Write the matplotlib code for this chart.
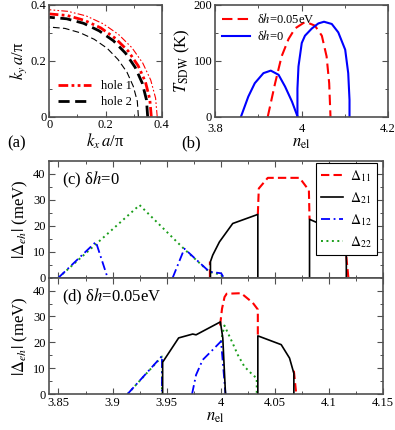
import numpy as np
import matplotlib
matplotlib.use("Agg")
import matplotlib.pyplot as plt
from matplotlib.ticker import MultipleLocator

plt.rcParams['font.family'] = ['Liberation Serif', 'DejaVu Serif']
plt.rcParams['mathtext.fontset'] = 'stix'
plt.rcParams['font.size'] = 9

# ---- panel (a): Fermi surfaces of hole pockets (radius read at angles) ----
theta_deg = [0, 10, 20, 30, 40, 50, 60, 70, 80, 90]
r_hole1_outer = [0.384, 0.384, 0.384, 0.384, 0.384, 0.384, 0.384, 0.384, 0.383, 0.383]
r_hole1_inner = [0.363, 0.363, 0.364, 0.365, 0.366, 0.366, 0.367, 0.367, 0.368, 0.368]
r_hole2_outer = [0.350, 0.351, 0.352, 0.353, 0.354, 0.355, 0.355, 0.356, 0.356, 0.356]
r_hole2_inner = [0.317, 0.318, 0.318, 0.319, 0.319, 0.320, 0.320, 0.320, 0.321, 0.321]

# ---- panel (b): T_SDW vs n_el ----
n_b_blue1 = [3.860, 3.877, 3.892, 3.912, 3.929, 3.947, 3.962, 3.978, 3.991]
T_b_blue1 = [0, 36, 60, 78, 82.5, 75, 54, 27, 0]
n_b_blue2 = [3.9906, 3.9906, 3.993, 4.0006, 4.008, 4.024, 4.039, 4.052, 4.070, 4.085, 4.101, 4.108, 4.111, 4.111]
T_b_blue2 = [0, 50, 90, 132, 145, 158, 167, 170, 166, 151, 120, 78, 30, 0]
n_b_red = [3.922, 3.939, 3.954, 3.970, 3.985, 4.009, 4.031, 4.047, 4.058, 4.064, 4.067]
T_b_red = [0, 60, 108, 139, 158, 170, 163, 145, 108, 60, 0]

# ---- panel (c): dh = 0 ----
c_n11 = [3.9900, 3.9900, np.nan, 4.0343, 4.0352, 4.0435, 4.0729, 4.0815, 4.0821, np.nan, 4.1161, 4.1180]
c_d11 = [0, 6.2, np.nan, 24.4, 34.4, 38.5, 38.5, 33.7, 22.5, np.nan, 8.1, 0]
c_n21 = [3.9905, 3.9905, 3.9926, 3.9988, 4.0111, 4.0343, 4.0343, np.nan,
         4.0821, 4.0821, 4.096, 4.110, 4.1161, 4.1161]
c_d21 = [0, 6.2, 8.7, 13.8, 20.9, 24.4, 0, np.nan, 0, 22.5, 20.0, 14.0, 8.1, 0]
c_n12 = [3.850, 3.8846, 3.8954, np.nan, 3.9556, 3.9664, 3.9895, 4.0004, 4.0028]
c_d12 = [0, 13.8, 0, np.nan, 0, 11.2, 2.3, 1.7, 0]
c_n22 = [3.850, 3.925, 3.9666, 3.9895, 4.000, 4.003]
c_d22 = [0, 28.0, 10.9, 2.2, 1.2, 0]

# ---- panel (d): dh = 0.05 eV ----
d_n11 = [3.9994, 4.0012, 4.0035, 4.0055, 4.0189, 4.0296, 4.0343, 4.0343, np.nan, 4.0676, 4.0698]
d_d11 = [26.5, 33.0, 37.5, 38.8, 39.0, 35.3, 32.7, 22.5, np.nan, 9.0, 0]
d_n21 = [3.9463, 3.9463, 3.9611, 3.9741, 3.9772, 3.9997, 4.0019, 4.0044, np.nan,
         4.0343, 4.0343, 4.0559, 4.0636, 4.0676, 4.0676]
d_d21 = [0, 12.3, 21.7, 23.2, 22.9, 27.9, 21.7, 0, np.nan, 0, 22.5, 19.1, 13.9, 8.0, 0]
d_n12 = [3.9139, 3.9457, 3.9457, np.nan, 3.9735, 3.9772, 3.9833, 3.9926, 4.0003, 4.0044]
d_d12 = [0, 14.7, 0, np.nan, 0, 7.4, 13.2, 17.1, 20.4, 0]
d_n22 = [3.9139, 3.9457, 3.9457, np.nan, 4.000, 4.0034, 4.0111, 4.0157, 4.0219, 4.0296, 4.0333, 4.0333]
d_d22 = [0, 14.5, 0, np.nan, 20.0, 26.5, 19.6, 15.2, 10.6, 7.4, 6.1, 0]

RED, BLUE, GREEN, BLACK = '#ff0000', '#0000ff', '#1a9e1a', '#000000'
SPINE = '#505050'


def style_axes(ax):
    for s in ax.spines.values():
        s.set_color(SPINE)
        s.set_linewidth(1.2)
    ax.tick_params(which='both', direction='in', top=True, right=True, color=SPINE)
    ax.tick_params(which='major', length=4, width=0.8, labelsize=9, pad=2)
    ax.tick_params(which='minor', length=2, width=0.7)


fig = plt.figure(figsize=(3.95, 4.3), dpi=100)

# (a)
ax_a = fig.add_axes([0.1248, 0.7286, 0.2846, 0.2598])
th = np.deg2rad(theta_deg)
ax_a.plot(np.array(r_hole1_outer) * np.cos(th), np.array(r_hole1_outer) * np.sin(th),
          color=RED, lw=0.8, dashes=(6, 2, 1.5, 2, 1.5, 2))
ax_a.plot(np.array(r_hole2_inner) * np.cos(th), np.array(r_hole2_inner) * np.sin(th),
          color=BLACK, lw=0.8, dashes=(6, 3))
ax_a.plot(np.array(r_hole1_inner) * np.cos(th), np.array(r_hole1_inner) * np.sin(th),
          color=RED, lw=2.0, dashes=(3.5, 1.2, 1, 1.2, 1, 1.2), label='hole 1')
ax_a.plot(np.array(r_hole2_outer) * np.cos(th), np.array(r_hole2_outer) * np.sin(th),
          color=BLACK, lw=2.0, dashes=(4, 2), label='hole 2')
ax_a.set_xlim(0, 0.4)
ax_a.set_ylim(0, 0.4)
ax_a.xaxis.set_major_locator(MultipleLocator(0.2))
ax_a.yaxis.set_major_locator(MultipleLocator(0.2))
ax_a.xaxis.set_minor_locator(MultipleLocator(0.1))
ax_a.yaxis.set_minor_locator(MultipleLocator(0.1))
ax_a.xaxis.set_major_formatter(plt.FuncFormatter(lambda v, p: '0' if v == 0 else f'{v:g}'))
ax_a.yaxis.set_major_formatter(plt.FuncFormatter(lambda v, p: '0' if v == 0 else f'{v:g}'))
style_axes(ax_a)
ax_a.set_xlabel(r'$k_x\,a$/π', fontsize=12, labelpad=0)
ax_a.set_ylabel(r'$k_y\,a$/π', fontsize=12, labelpad=1)
ax_a.legend(loc='lower left', frameon=False, fontsize=9, handlelength=2.6,
            borderaxespad=0.3, labelspacing=0.3, handletextpad=0.8)
fig.text(0.018, 0.667, '(a)', fontsize=12, va='center')

# (b)
ax_b = fig.add_axes([0.5443, 0.7286, 0.4380, 0.2598])
ax_b.plot(n_b_red, T_b_red, color=RED, lw=1.5, dashes=(5, 2.5), label=r'δ$h$=0.05eV')
ax_b.plot(n_b_blue1, T_b_blue1, color=BLUE, lw=1.5, label=r'δ$h$=0')
ax_b.plot(n_b_blue2, T_b_blue2, color=BLUE, lw=1.5)
ax_b.set_xlim(3.8, 4.2)
ax_b.set_ylim(0, 200)
ax_b.xaxis.set_major_locator(MultipleLocator(0.2))
ax_b.xaxis.set_minor_locator(MultipleLocator(0.1))
ax_b.yaxis.set_major_locator(MultipleLocator(100))
ax_b.yaxis.set_minor_locator(MultipleLocator(50))
ax_b.xaxis.set_major_formatter(plt.FuncFormatter(lambda v, p: f'{v:g}'))
style_axes(ax_b)
ax_b.tick_params(axis='x', pad=4.5)
ax_b.set_xlabel(r'$n_{\rm el}$', fontsize=12, labelpad=0)
ax_b.set_ylabel(r'$T_{\rm SDW}$ (K)', fontsize=12, labelpad=1)
ax_b.legend(loc='upper left', frameon=False, fontsize=9, handlelength=2.2,
            borderaxespad=0.2, labelspacing=0.2, handletextpad=0.6)
fig.text(0.46, 0.667, '(b)', fontsize=12, va='center')


def delta_panel(ax, n11, d11, n21, d21, n12, d12, n22, d22):
    ax.plot(n22, d22, color=GREEN, lw=1.4, dashes=(1, 1.8), label=r'$\Delta_{22}$')
    ax.plot(n12, d12, color=BLUE, lw=1.3, dashes=(5, 2, 1, 2), label=r'$\Delta_{12}$')
    ax.plot(n11, d11, color=RED, lw=1.5, dashes=(4, 2), label=r'$\Delta_{11}$')
    ax.plot(n21, d21, color=BLACK, lw=1.2, label=r'$\Delta_{21}$')
    ax.set_xlim(3.8408, 4.15)
    ax.set_ylim(0, 45)
    ax.xaxis.set_major_locator(MultipleLocator(0.05))
    ax.xaxis.set_minor_locator(MultipleLocator(0.025))
    ax.yaxis.set_major_locator(MultipleLocator(10))
    ax.yaxis.set_minor_locator(MultipleLocator(5))
    ax.xaxis.set_major_formatter(plt.FuncFormatter(lambda v, p: f'{v:g}'))
    style_axes(ax)
    ax.set_ylabel(r'$|\Delta_{eh}|$ (meV)', fontsize=12, labelpad=2)


# (c)
ax_c = fig.add_axes([0.1228, 0.3542, 0.8468, 0.2714])
delta_panel(ax_c, c_n11, c_d11, c_n21, c_d21, c_n12, c_d12, c_n22, c_d22)
ax_c.tick_params(labelbottom=False)
ax_c.text(0.04, 0.80, r'(c) δ$h$=0', transform=ax_c.transAxes, fontsize=12)
handles, labels = ax_c.get_legend_handles_labels()
order = [2, 3, 1, 0]
leg = ax_c.legend([handles[i] for i in order], [labels[i] for i in order],
                  loc='upper right', bbox_to_anchor=(0.982, 0.983), borderaxespad=0,
                  fontsize=10, handlelength=1.6, fancybox=False,
                  edgecolor='black', framealpha=1, labelspacing=0.45,
                  handletextpad=0.5, borderpad=0.35)
leg.get_frame().set_linewidth(0.8)

# (d)
ax_d = fig.add_axes([0.1228, 0.0837, 0.8468, 0.2705])
delta_panel(ax_d, d_n11, d_d11, d_n21, d_d21, d_n12, d_d12, d_n22, d_d22)
ax_d.text(0.04, 0.80, r'(d) δ$h$=0.05eV', transform=ax_d.transAxes, fontsize=12)
ax_d.set_xlabel(r'$n_{\rm el}$', fontsize=12, labelpad=0)

fig.savefig('out.png', dpi=100)
